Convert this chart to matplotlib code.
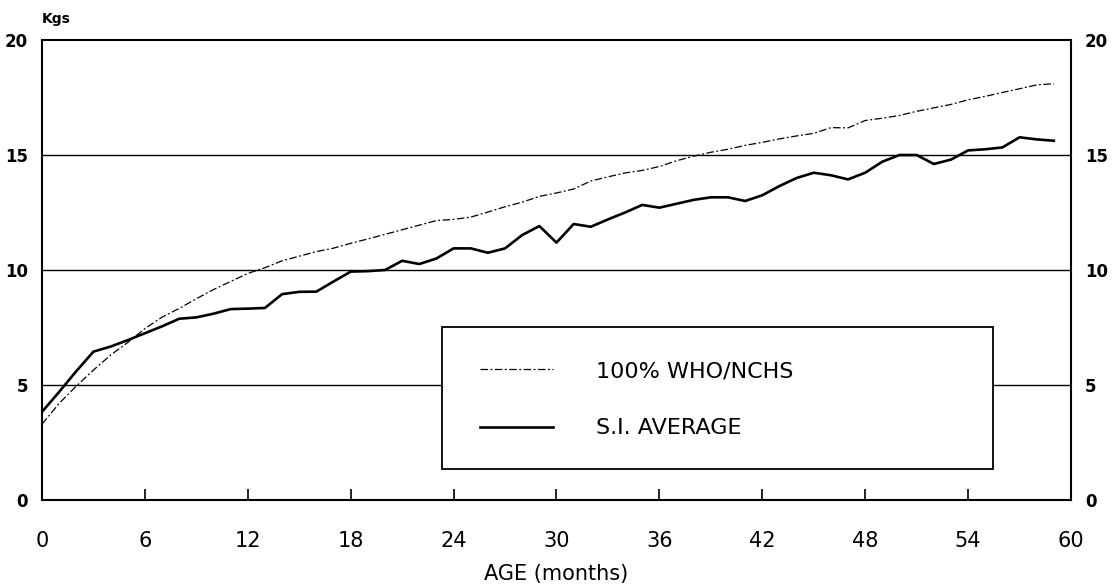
import matplotlib
matplotlib.use("Agg")
import matplotlib.pyplot as plt
import matplotlib.patches as patches

months = list(range(60))
who_nchs = [3.3, 4.2, 4.95, 5.65, 6.3, 6.85, 7.45, 7.95, 8.33, 8.75,
            9.15, 9.5, 9.85, 10.1, 10.4, 10.6, 10.8, 10.95, 11.16, 11.35,
            11.55, 11.75, 11.95, 12.15, 12.2, 12.3, 12.52, 12.75, 12.95, 13.2,
            13.35, 13.52, 13.87, 14.05, 14.22, 14.33, 14.5, 14.75, 14.95, 15.12,
            15.25, 15.42, 15.55, 15.7, 15.83, 15.94, 16.19, 16.18, 16.5, 16.6,
            16.72, 16.9, 17.05, 17.2, 17.4, 17.55, 17.72, 17.88, 18.05, 18.1]
si_average = [3.83, 4.7, 5.6, 6.45, 6.67, 6.95, 7.25, 7.55, 7.88, 7.94,
              8.1, 8.3, 8.32, 8.35, 8.95, 9.05, 9.06, 9.5, 9.93, 9.95,
              10.0, 10.4, 10.26, 10.5, 10.94, 10.94, 10.75, 10.94, 11.52, 11.91,
              11.19, 12.0, 11.88, 12.2, 12.5, 12.83, 12.71, 12.88, 13.05, 13.16,
              13.16, 13.0, 13.25, 13.65, 14.0, 14.23, 14.12, 13.94, 14.23, 14.71,
              15.0, 15.0, 14.61, 14.8, 15.2, 15.25, 15.33, 15.77, 15.68, 15.62]
x_ticks = [0, 6, 12, 18, 24, 30, 36, 42, 48, 54, 60]
y_ticks = [0, 5, 10, 15, 20]
label_who = "100% WHO/NCHS"
label_si = "S.I. AVERAGE"

plt.rcParams['font.family'] = ['DejaVu Sans']

fig = plt.figure(figsize=(11.14, 5.86), dpi=100)
ax = fig.add_axes([0.0377, 0.1468, 0.9237, 0.7849])

for yv in y_ticks[1:-1]:
    ax.axhline(yv, color='black', lw=1.0, zorder=1)

who_line, = ax.plot(months, who_nchs, color='black', lw=0.9,
                    dashes=(6, 2, 1.5, 2), zorder=2)
si_line, = ax.plot(months, si_average, color='black', lw=1.9, zorder=2)

ax.set_xlim(0, 60)
ax.set_ylim(0, 20)
ax.set_xticks(x_ticks)
ax.set_yticks(y_ticks)
ax.tick_params(axis='x', direction='in', length=8, width=1.2, pad=22,
               labelsize=15)
ax.tick_params(axis='y', length=0, pad=10, labelsize=12,
               right=True, labelright=True)
for lab in ax.get_yticklabels():
    lab.set_fontweight('bold')
for s in ax.spines.values():
    s.set_linewidth(1.5)

ax.set_xlabel("AGE (months)", fontsize=15, labelpad=10)
ax.text(0.0, 1.03, "Kgs", transform=ax.transAxes, fontsize=10,
        fontweight='bold', ha='left', va='bottom')

box = patches.Rectangle((0.389, 0.0674), 0.535, 0.3086, transform=ax.transAxes,
                        facecolor='white', edgecolor='black', lw=1.3, zorder=3)
ax.add_patch(box)

leg = ax.legend([who_line, si_line], [label_who, label_si], loc='upper left',
                bbox_to_anchor=(0.4257, 0.302), frameon=False, fontsize=16,
                handlelength=3.3, handletextpad=1.9, labelspacing=1.68,
                borderpad=0, borderaxespad=0)
leg.set_zorder(4)

fig.savefig("out.png", dpi=100, facecolor='white')
